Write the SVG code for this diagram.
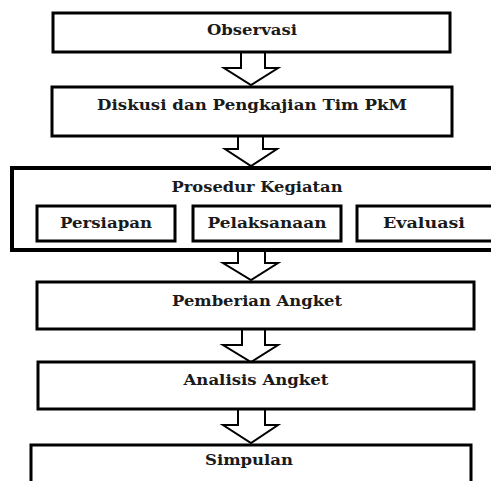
<svg xmlns="http://www.w3.org/2000/svg" width="491" height="481" viewBox="0 0 491 481">
<style>
.box{fill:#fff;stroke:#000;stroke-width:3}
.outer{fill:#fff;stroke:#000;stroke-width:4}
.arr{fill:#fff;stroke:#000;stroke-width:2;stroke-linejoin:miter}
.t{font-family:"DejaVu Serif","Liberation Serif",serif;font-weight:bold;font-size:14px;fill:#1a1a1a;text-anchor:middle}
</style>
<rect width="491" height="481" fill="#fff"/>
<g id="connectors">
<path class="arr" d="M241,52 V68 H224 L251,85 L278,68 H265 V52 Z"/>
<path class="arr" d="M238,136 V149 H225 L251,166 L277,149 H263 V136 Z"/>
<path class="arr" d="M238,250 V263 H223 L251,280 L278,263 H265 V250 Z"/>
<path class="arr" d="M242,329 V345 H223 L251,362 L278,345 H265 V329 Z"/>
<path class="arr" d="M238,409 V425 H223 L251,443 L278,425 H265 V409 Z"/>
</g>
<g id="observasi">
<rect class="box" x="53" y="13" width="397" height="39"/>
<text class="t" x="252" y="35" textLength="90" lengthAdjust="spacingAndGlyphs">Observasi</text>
</g>
<g id="diskusi">
<rect class="box" x="52" y="87" width="400" height="49"/>
<text class="t" x="252" y="110" textLength="310" lengthAdjust="spacingAndGlyphs">Diskusi dan Pengkajian Tim PkM</text>
</g>
<g id="prosedur">
<rect class="outer" x="12" y="168" width="490" height="82"/>
<text class="t" x="257" y="192" textLength="171" lengthAdjust="spacingAndGlyphs">Prosedur Kegiatan</text>
<g id="persiapan">
<rect class="box" x="37" y="206" width="138" height="35"/>
<text class="t" x="106" y="228" textLength="92" lengthAdjust="spacingAndGlyphs">Persiapan</text>
</g>
<g id="pelaksanaan">
<rect class="box" x="193" y="206" width="148" height="35"/>
<text class="t" x="267" y="228" textLength="119" lengthAdjust="spacingAndGlyphs">Pelaksanaan</text>
</g>
<g id="evaluasi">
<rect class="box" x="357" y="206" width="140" height="35"/>
<text class="t" x="424" y="228" textLength="82" lengthAdjust="spacingAndGlyphs">Evaluasi</text>
</g>
</g>
<g id="pemberian">
<rect class="box" x="37" y="282" width="437" height="47"/>
<text class="t" x="257" y="306" textLength="170" lengthAdjust="spacingAndGlyphs">Pemberian Angket</text>
</g>
<g id="analisis">
<rect class="box" x="38" y="362" width="436" height="47"/>
<text class="t" x="256" y="385" textLength="145" lengthAdjust="spacingAndGlyphs">Analisis Angket</text>
</g>
<g id="simpulan">
<rect class="box" x="31" y="445" width="440" height="50"/>
<text class="t" x="249" y="465" textLength="88" lengthAdjust="spacingAndGlyphs">Simpulan</text>
</g>
</svg>
